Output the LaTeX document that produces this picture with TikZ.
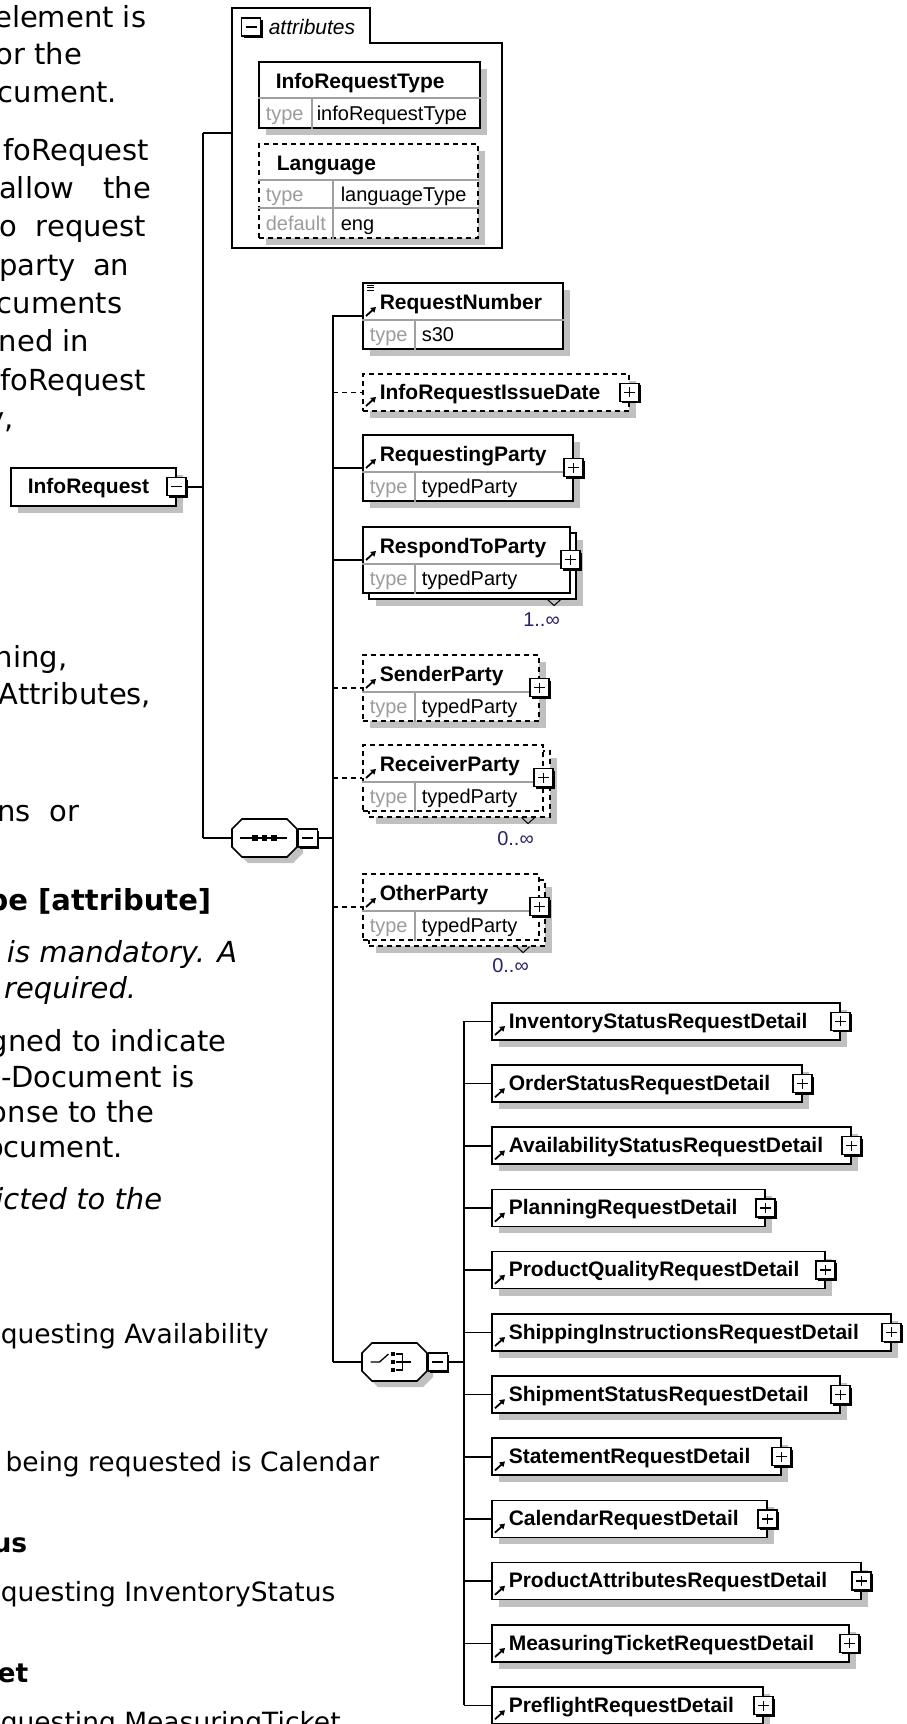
\documentclass[tikz,border=0pt]{standalone}
\usepackage{fontspec}
\newfontfamily\bodyfont{DejaVu Sans}
\newfontfamily\dgfont{Liberation Sans}
\usetikzlibrary{positioning, calc, shadows, arrows.meta}

\definecolor{shadowgray}{HTML}{C0C0C0}
\definecolor{divgray}{HTML}{A0A0A0}
\definecolor{keygray}{HTML}{9C9C9C}
\definecolor{multc}{HTML}{2E1F66}

\tikzset{
  bodytext/.style={font=\bodyfont\fontsize{29}{35}\selectfont, inner sep=0pt, anchor=base east},
  bodybold/.style={bodytext, font=\bodyfont\bfseries\fontsize{29}{35}\selectfont},
  bodyit/.style={bodytext, font=\bodyfont\itshape\fontsize{29}{35}\selectfont},
  desctext/.style={font=\bodyfont\fontsize{26.5}{32}\selectfont, inner sep=0pt, anchor=base west},
  descbold/.style={desctext, font=\bodyfont\bfseries\fontsize{26.5}{32}\selectfont, anchor=base east},
  hdr/.style={font=\dgfont\bfseries\fontsize{21}{24}\selectfont, inner sep=0pt, anchor=base west},
  hdrit/.style={hdr, font=\dgfont\itshape\fontsize{21}{24}\selectfont},
  rowtext/.style={font=\dgfont\fontsize{20}{23}\selectfont, inner sep=0pt, anchor=base west},
  rowkey/.style={rowtext, text=keygray},
  multi/.style={rowtext, text=multc, anchor=base east},
  plainbox/.style={draw, fill=white, line width=1.6pt, inner sep=0pt, anchor=north west},
  box/.style={plainbox, drop shadow={fill=shadowgray, opacity=1, shadow xshift=7pt, shadow yshift=-7pt}},
  opt/.style={dash pattern=on 5pt off 4pt},
  divider/.style={draw=divgray, line width=1.3pt, solid},
  refarrow/.style={line width=1.8pt, -{Triangle[length=5pt,width=6pt]}},
  expander/.style={draw, fill=white, line width=1.3pt, minimum width=19pt, minimum height=18pt, inner sep=0pt,
    drop shadow={fill=black, opacity=1, shadow xshift=2pt, shadow yshift=-2pt}},
  minusbox/.style={expander, path picture={
    \draw[line width=1.3pt] ([xshift=4pt]path picture bounding box.west) -- ([xshift=-4pt]path picture bounding box.east);}},
  plusbox/.style={expander, path picture={
    \draw[line width=1.3pt] ([xshift=4pt]path picture bounding box.west) -- ([xshift=-4pt]path picture bounding box.east)
      ([yshift=-4pt]path picture bounding box.north) -- ([yshift=4pt]path picture bounding box.south);}},
  compbox/.style={minimum width=65pt, minimum height=38pt, inner sep=0pt}
}

% element with a type row
\newcommand\typedelem[6]{%
  \node[plainbox, #2, minimum width=#4, minimum height=66pt] (#1) at #3 {};
  \draw[divider] ($(#1.north west)+(0,38)$) -- ($(#1.north east)+(0,38)$);
  \draw[divider] ($(#1.north west)+(53,38)$) -- ($(#1.south west)+(53,0)$);
  \node[hdr] (#1-name) at ($(#1.north west)+(17,27)$) {#5};
  \node[rowkey] (#1-key) at ($(#1.north west)+(7,59)$) {type};
  \node[rowtext] (#1-type) at ($(#1.north west)+(59,59)$) {#6};
  \draw[refarrow] ($(#1.north west)+(4,34)$) -- ++(10,-9);
}
% element with a name only
\newcommand\simpleelem[5]{%
  \node[plainbox, #2, minimum width=#4, minimum height=37pt] (#1) at #3 {};
  \node[hdr] (#1-name) at ($(#1.north west)+(17,26)$) {#5};
  \draw[refarrow] ($(#1.north west)+(4,33)$) -- ++(10,-9);
}
% octagon of a sequence or choice
\newcommand\compositor[2]{%
  \node[compbox] (#1) at #2 {};
  \fill[shadowgray] ($(#1.center)+(-16.5,-13)$) -- ++(45,0) -- ++(10,10) -- ++(0,18) -- ++(-10,10)
    -- ++(-45,0) -- ++(-10,-10) -- ++(0,-18) -- cycle;
  \draw[fill=white] ($(#1.center)+(-22.5,-19)$) -- ++(45,0) -- ++(10,10) -- ++(0,18) -- ++(-10,10)
    -- ++(-45,0) -- ++(-10,-10) -- ++(0,-18) -- cycle;
}

\begin{document}
\begin{tikzpicture}[x=1pt, y=-1pt, line width=1.6pt]
\useasboundingbox (0,0) rectangle (907,1724);
\clip (0,0) rectangle (907,1724);

% page text beside the diagram
\node[bodytext] (t1) at (147,27) {element is};
\node[bodytext] (t2) at (83,64.5) {or the};
\node[bodytext] (t3) at (118,102) {cument.};
\node[bodytext] (t4) at (150,160) {foRequest};
\node[bodytext] (t5) at (152,198.3) {\makebox[152pt][s]{allow the}};
\node[bodytext] (t6) at (147,236.6) {\makebox[147pt][s]{o request}};
\node[bodytext] (t7) at (130,275) {\makebox[130pt][s]{party an}};
\node[bodytext] (t8) at (123,313.3) {cuments};
\node[bodytext] (t9) at (90,351.6) {ned in};
\node[bodytext] (t10) at (147,390) {foRequest};
\node[bodytext] (t11) at (15,428) {y,};
\node[bodytext] (t12) at (68,667) {ning,};
\node[bodytext] (t13) at (152,704) {Attributes,};
\node[bodytext] (t14) at (80,821) {\makebox[82pt][s]{ns or}};
\node[bodybold] (t15) at (212,910) {pe [attribute]};
\node[bodyit] (t16) at (238,962) {is mandatory. A};
\node[bodyit] (t17) at (137,998) {required.};
\node[bodytext] (t18) at (227,1051) {gned to indicate};
\node[bodytext] (t19) at (195,1087) {-Document is};
\node[bodytext] (t20) at (155,1122) {onse to the};
\node[bodytext] (t21) at (124,1157) {ocument.};
\node[bodyit] (t22) at (163,1209) {icted to the};
\node[desctext] (t23) at (0,1343) {questing Availability};
\node[desctext, anchor=base east] (t24) at (380,1471) {being requested is Calendar};
\node[descbold] (t25) at (28,1552) {us};
\node[desctext] (t26) at (0,1601) {questing InventoryStatus};
\node[descbold] (t27) at (29,1682) {et};
\node[desctext] (t28) at (0,1731) {questing MeasuringTicket};

% bus lines
\coordinate (rbusT) at (203,133);
\coordinate (rbusB) at (203,838);
\coordinate (sbusT) at (333,315);
\coordinate (sbusB) at (333,1362);
\coordinate (cbusT) at (464,1020.5);
\coordinate (cbusB) at (464,1704.7);

% root element
\node[box, minimum width=165pt, minimum height=38pt] (root) at (10,467) {};
\node[hdr] (root-name) at (27,493.5) {InfoRequest};
\node[minusbox] (rootx) at (root.east) {};

% attributes
\draw (232,8) -- (370,8) -- (370,43) -- (502,43) -- (502,248) -- (232,248) -- cycle;
\coordinate (attrin) at (232,133);
\node[minusbox] (attrx) at (251,27) {};
\node[hdrit] (attr-name) at (268,34) {attributes};
\node[box, minimum width=221pt, minimum height=66pt] (irt) at (258,61) {};
\draw[divider] ($(irt.north west)+(0,37)$) -- ($(irt.north east)+(0,37)$);
\draw[divider] ($(irt.north west)+(54,37)$) -- ($(irt.south west)+(54,0)$);
\node[hdr] (irt-name) at ($(irt.north west)+(17,27)$) {InfoRequestType};
\node[rowkey] (irt-key) at ($(irt.north west)+(7,59)$) {type};
\node[rowtext] (irt-type) at ($(irt.north west)+(58,59)$) {infoRequestType};
\node[box, opt, minimum width=219pt, minimum height=94pt] (lang) at (258,143) {};
\draw[divider] ($(lang.north west)+(0,37)$) -- ($(lang.north east)+(0,37)$);
\draw[divider] ($(lang.north west)+(0,65)$) -- ($(lang.north east)+(0,65)$);
\draw[divider] ($(lang.north west)+(75,37)$) -- ($(lang.south west)+(75,0)$);
\node[hdr] (lang-name) at ($(lang.north west)+(18,27)$) {Language};
\node[rowkey] (lang-key1) at ($(lang.north west)+(7,58)$) {type};
\node[rowtext] (lang-type) at ($(lang.north west)+(82,58)$) {languageType};
\node[rowkey] (lang-key2) at ($(lang.north west)+(7,87)$) {default};
\node[rowtext] (lang-def) at ($(lang.north west)+(82,87)$) {eng};

% sequence
\compositor{seq}{(264.5,838)}
\draw[line width=1.3pt] ($(seq.center)+(-24.5,0)$) -- ($(seq.center)+(22.5,0)$);
\foreach \d in {-9.5,0,9.5}
  \fill ($(seq.center)+(\d-2.75,-2.75)$) rectangle ++(5.5,5.5);
\node[minusbox] (seqx) at ($(seq.east)+(10,0)$) {};

\typedelem{rnum}{box}{(362,282)}{200pt}{RequestNumber}{s30}
\foreach \d in {3,5.5,8}
  \draw[line width=0.9pt] ($(rnum.north west)+(5,\d)$) -- ++(7,0);
\simpleelem{issue}{box, opt}{(362,373)}{266pt}{InfoRequestIssueDate}
\node[plusbox] (issuex) at (issue.east) {};
\typedelem{reqp}{box}{(362,434)}{210pt}{RequestingParty}{typedParty}
\node[plusbox] (reqpx) at (reqp.east) {};

\node[box, minimum width=207pt, minimum height=66pt] (respb) at (368,532) {};
\typedelem{resp}{}{(362,526)}{207pt}{RespondToParty}{typedParty}
\node[plusbox] (respx) at (resp.east) {};
\draw[line width=1pt] ($(respb.south east)+(-29,0)$) -- ++(6.5,6) -- ++(6.5,-6);
\node[multi] (respn) at ($(respb.south east)+(-16,27)$) {1..∞};

\typedelem{send}{box, opt}{(362,654)}{176pt}{SenderParty}{typedParty}
\node[plusbox] (sendx) at (send.east) {};

\node[box, opt, minimum width=181pt, minimum height=66pt] (recvb) at (368,750) {};
\typedelem{recv}{opt}{(362,744)}{180pt}{ReceiverParty}{typedParty}
\node[plusbox] (recvx) at (recv.east) {};
\draw[line width=1pt] ($(recvb.south east)+(-29,0)$) -- ++(6.5,6) -- ++(6.5,-6);
\node[multi] (recvn) at ($(recvb.south east)+(-16,28)$) {0..∞};

\node[box, opt, minimum width=176pt, minimum height=66pt] (otherb) at (368,879) {};
\typedelem{other}{opt}{(362,873)}{176pt}{OtherParty}{typedParty}
\node[plusbox] (otherx) at (other.east) {};
\draw[line width=1pt] ($(otherb.south east)+(-29,0)$) -- ++(6.5,6) -- ++(6.5,-6);
\node[multi] (othern) at ($(otherb.south east)+(-16,26)$) {0..∞};

% choice
\compositor{chc}{(394.5,1362)}
\draw[line width=1.3pt] ($(chc.center)+(-24,0)$) -- ++(9,0) -- ++(9,-8);
\foreach \d in {-8,0,8}
  \fill ($(chc.center)+(-3.5,\d-2)$) rectangle ++(4,4);
\draw[line width=1.3pt] ($(chc.center)+(1,-8)$) -- ++(7,0) -- ++(0,16) -- ++(-7,0)
  ($(chc.center)+(1,0)$) -- ++(15,0);
\node[minusbox] (chcx) at ($(chc.east)+(10,0)$) {};

\foreach \elname/\w [count=\i from 0] in {InventoryStatusRequestDetail/348pt, OrderStatusRequestDetail/310pt,
    AvailabilityStatusRequestDetail/359pt, PlanningRequestDetail/273pt, ProductQualityRequestDetail/333pt,
    ShippingInstructionsRequestDetail/399pt, ShipmentStatusRequestDetail/348pt, StatementRequestDetail/289pt,
    CalendarRequestDetail/275pt, ProductAttributesRequestDetail/369pt, MeasuringTicketRequestDetail/357pt,
    PreflightRequestDetail/271pt} {
  \simpleelem{ch\i}{box}{(491,1002+62.2*\i)}{\w}{\elname}
  \node[plusbox] (chx\i) at (ch\i.east) {};
  \draw (ch\i.west -| cbusT) -- (ch\i.west);
}

% connectors
\draw (rootx.east) -- (rootx.east -| rbusT);
\draw (rbusT) -- (rbusB);
\draw (rbusT) -- (attrin);
\draw (rbusB) -- (seq.west);
\draw (seqx.east) -- (seqx.east -| sbusT);
\draw (sbusT) -- (sbusB);
\draw (sbusB) -- (chc.west);
\draw (chcx.east) -- (chcx.east -| cbusT);
\draw (cbusT) -- (cbusB);
\foreach \n in {rnum, reqp, resp}
  \draw (\n.west -| sbusT) -- (\n.west);
\foreach \n in {issue, send, recv, other}
  \draw[opt] (\n.west -| sbusT) -- (\n.west);
\end{tikzpicture}
\end{document}
